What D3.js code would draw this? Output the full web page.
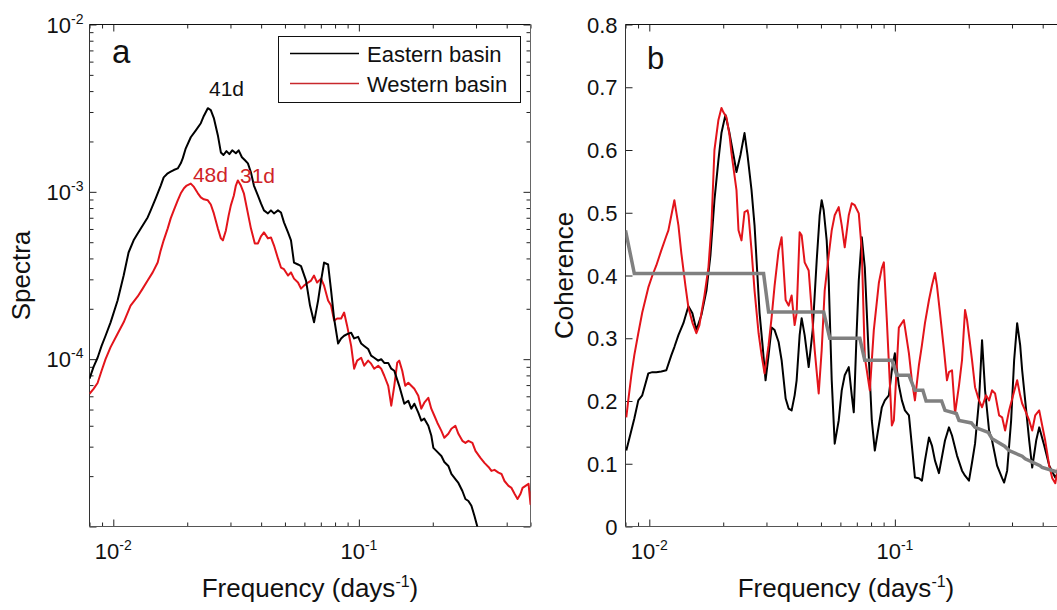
<!DOCTYPE html>
<html><head><meta charset="utf-8">
<script src="https://cdn.jsdelivr.net/npm/d3@7"></script>
<style>body{margin:0;background:#fff;overflow:hidden}</style>
</head><body><svg id="c" width="1057" height="610" style="display:block;background:#fff"></svg>
<script>
// ---------- DATA ----------
// Panel a: spectra (frequency in days^-1)
const eastFreq = [0.0080,0.00831,0.00863,0.00896,0.0093,0.00975,0.01041,0.01102,0.01154,0.0121,0.01257,0.01317,0.0138,0.0142,0.01488,0.0156,0.01604,0.01666,0.01713,0.01763,0.0183,0.01883,0.01919,0.01973,0.02068,0.02168,0.02272,0.02337,0.02426,0.02495,0.02567,0.02665,0.02742,0.0281,0.0289,0.0297,0.0305,0.03156,0.0324,0.0334,0.0343,0.03533,0.03634,0.03738,0.03882,0.03993,0.04107,0.04264,0.04385,0.04511,0.04684,0.04818,0.04955,0.05146,0.05292,0.05443,0.05652,0.05814,0.06093,0.06326,0.06569,0.06823,0.07017,0.07218,0.07493,0.07708,0.07929,0.08232,0.08467,0.0871,0.09044,0.09303,0.09568,0.09934,0.1022,0.1051,0.1091,0.1122,0.1155,0.1199,0.1233,0.1269,0.1317,0.1355,0.1394,0.146,0.1531,0.159,0.1635,0.1682,0.1746,0.1796,0.1847,0.1918,0.1972,0.2011,0.2068,0.2168,0.2229,0.2314,0.2381,0.2472,0.2543,0.264,0.2716,0.2793,0.2873,0.2955,0.304,0.3127];
const eastSpec = [7.64e-5,9.0e-5,1.02e-4,1.2e-4,1.38e-4,1.66e-4,2.24e-4,3.16e-4,4.34e-4,5.13e-4,5.64e-4,6.30e-4,7.03e-4,7.75e-4,9.15e-4,1.09e-3,1.22e-3,1.29e-3,1.32e-3,1.35e-3,1.38e-3,1.48e-3,1.59e-3,1.82e-3,2.12e-3,2.33e-3,2.57e-3,2.84e-3,3.16e-3,3.08e-3,2.76e-3,2.18e-3,1.72e-3,1.66e-3,1.75e-3,1.68e-3,1.77e-3,1.70e-3,1.77e-3,1.61e-3,1.55e-3,1.48e-3,1.31e-3,1.09e-3,9.5e-4,8.53e-4,7.75e-4,7.43e-4,7.75e-4,7.43e-4,7.75e-4,7.53e-4,6.57e-4,5.72e-4,5.13e-4,3.78e-4,3.68e-4,3.6e-4,2.95e-4,2.09e-4,1.66e-4,2.24e-4,2.95e-4,3.78e-4,3.68e-4,2.57e-4,1.75e-4,1.24e-4,1.33e-4,1.38e-4,1.42e-4,1.44e-4,1.33e-4,1.36e-4,1.24e-4,1.2e-4,1.15e-4,1.05e-4,1.02e-4,9.8e-5,1.0e-4,9.5e-5,9.5e-5,8.77e-5,8.53e-5,6.93e-5,5.42e-5,5.64e-5,5.06e-5,5.42e-5,4.79e-5,4.29e-5,4.41e-5,4.0e-5,3.5e-5,2.95e-5,2.83e-5,2.64e-5,2.43e-5,2.30e-5,2.06e-5,1.92e-5,1.82e-5,1.63e-5,1.46e-5,1.42e-5,1.33e-5,1.16e-5,9.93e-6,8.77e-6];
const westFreq = [0.0080,0.00831,0.00863,0.00896,0.0093,0.00975,0.01041,0.01102,0.01176,0.01257,0.01317,0.0138,0.01447,0.01516,0.0156,0.01604,0.01666,0.01713,0.01763,0.0183,0.01883,0.0194,0.0199,0.02068,0.0213,0.0221,0.02272,0.02337,0.02426,0.02495,0.02567,0.02665,0.02742,0.02794,0.02874,0.0295,0.03011,0.03097,0.03156,0.03216,0.03308,0.03402,0.03533,0.03634,0.0377,0.03882,0.03993,0.04107,0.04264,0.04385,0.04511,0.04684,0.04818,0.04955,0.05146,0.05292,0.05443,0.05652,0.05814,0.0598,0.0621,0.0639,0.06569,0.0676,0.07017,0.07218,0.07493,0.07708,0.07929,0.0816,0.08467,0.0871,0.0896,0.09303,0.09568,0.0984,0.1022,0.1051,0.1091,0.1122,0.1155,0.1199,0.1233,0.1269,0.1317,0.1355,0.1394,0.1433,0.146,0.1502,0.1545,0.159,0.1635,0.1682,0.1746,0.1796,0.1847,0.1918,0.1972,0.203,0.2087,0.2168,0.2229,0.2314,0.2381,0.2472,0.2543,0.264,0.2716,0.2793,0.29,0.2984,0.3127,0.3247,0.3372,0.3467,0.3567,0.3703,0.3809,0.3918,0.4068,0.4184,0.4305,0.4428,0.4555,0.4641,0.4774,0.4909,0.50,0.505];
const westSpec = [6.21e-5,6.65e-5,7.2e-5,8.53e-5,1.0e-4,1.18e-4,1.42e-4,1.66e-4,2.09e-4,2.37e-4,2.64e-4,2.95e-4,3.3e-4,3.78e-4,4.47e-4,5.13e-4,6.05e-4,6.94e-4,7.75e-4,8.9e-4,9.8e-4,1.05e-3,1.09e-3,1.12e-3,1.07e-3,9.8e-4,9.27e-4,9.02e-4,8.9e-4,8.4e-4,7.43e-4,6.05e-4,5.27e-4,5.13e-4,5.88e-4,7.23e-4,8.3e-4,9.5e-4,1.09e-3,1.17e-3,1.09e-3,9.8e-4,7.43e-4,6.05e-4,4.92e-4,4.92e-4,5.42e-4,5.72e-4,5.27e-4,5.34e-4,4.79e-4,4.0e-4,3.53e-4,3.45e-4,3.16e-4,3.3e-4,3.03e-4,2.87e-4,2.64e-4,2.75e-4,2.87e-4,2.95e-4,3.16e-4,2.87e-4,3.03e-4,2.75e-4,2.24e-4,2.09e-4,1.70e-4,1.75e-4,1.75e-4,1.90e-4,1.58e-4,1.2e-4,8.77e-5,9.8e-5,1.02e-4,9.14e-5,9.8e-5,9.4e-5,8.77e-5,9.14e-5,8.77e-5,7.96e-5,6.93e-5,5.27e-5,6.93e-5,9.53e-5,9.8e-5,8.53e-5,6.93e-5,7.23e-5,6.93e-5,6.65e-5,6.05e-5,5.06e-5,5.49e-5,5.88e-5,5.06e-5,4.59e-5,4.17e-5,3.73e-5,3.39e-5,3.58e-5,3.84e-5,4.0e-5,3.58e-5,3.25e-5,3.16e-5,3.25e-5,3.16e-5,2.83e-5,2.57e-5,2.40e-5,2.27e-5,2.15e-5,2.18e-5,2.1e-5,2.06e-5,1.87e-5,1.75e-5,1.70e-5,1.57e-5,1.46e-5,1.57e-5,1.70e-5,1.75e-5,1.80e-5,1.36e-5,1.63e-5];

// Panel b: coherence
const cohEastFreq = [0.00806,0.00845,0.00869,0.00902,0.00936,0.00991,0.01029,0.01068,0.01119,0.01173,0.0123,0.01265,0.01314,0.01377,0.01443,0.01498,0.01555,0.0163,0.01709,0.01774,0.01842,0.01912,0.01967,0.02042,0.02121,0.02202,0.02265,0.02351,0.02442,0.02512,0.02608,0.02683,0.02734,0.02812,0.02892,0.02975,0.0306,0.03148,0.03238,0.03362,0.03458,0.03591,0.03693,0.03799,0.03907,0.03981,0.04095,0.04173,0.04292,0.04457,0.04627,0.04805,0.04942,0.05035,0.05131,0.05277,0.05378,0.05532,0.05689,0.05907,0.06077,0.0625,0.0649,0.06676,0.06803,0.06995,0.07129,0.07333,0.07543,0.07832,0.08056,0.08287,0.08605,0.08851,0.09104,0.09452,0.09723,0.1,0.1038,0.1068,0.1099,0.1141,0.1173,0.1207,0.1253,0.1289,0.1326,0.1377,0.1416,0.1457,0.1512,0.16,0.1661,0.1709,0.1791,0.1877,0.1931,0.2004,0.2062,0.2121,0.2202,0.2265,0.233,0.2419,0.2488,0.2608,0.2734,0.2786,0.2866,0.2975,0.306,0.3148,0.3238,0.3299,0.3394,0.3524,0.3625,0.3763,0.3871,0.4057,0.4252,0.45,0.4672,0.4942,0.5083];
const cohEast = [0.121,0.153,0.172,0.201,0.209,0.244,0.246,0.246,0.247,0.249,0.273,0.286,0.305,0.324,0.351,0.340,0.313,0.337,0.376,0.432,0.520,0.584,0.627,0.656,0.627,0.592,0.565,0.592,0.627,0.592,0.536,0.480,0.424,0.340,0.289,0.233,0.273,0.317,0.313,0.294,0.265,0.204,0.188,0.185,0.209,0.233,0.305,0.332,0.305,0.254,0.313,0.424,0.496,0.520,0.504,0.456,0.392,0.233,0.132,0.169,0.217,0.241,0.254,0.209,0.182,0.313,0.392,0.461,0.413,0.270,0.169,0.121,0.161,0.190,0.201,0.209,0.249,0.276,0.225,0.201,0.185,0.177,0.129,0.078,0.077,0.073,0.105,0.142,0.129,0.105,0.085,0.137,0.158,0.145,0.113,0.089,0.081,0.073,0.102,0.132,0.201,0.297,0.217,0.153,0.137,0.097,0.077,0.070,0.089,0.169,0.265,0.324,0.289,0.249,0.201,0.137,0.094,0.137,0.158,0.129,0.097,0.078,0.089,0.097,0.089];
const cohWestFreq = [0.00806,0.00821,0.00845,0.00869,0.00902,0.00936,0.00991,0.01029,0.01068,0.01119,0.01173,0.01196,0.0123,0.01265,0.01314,0.01351,0.01403,0.01443,0.01498,0.01555,0.016,0.0163,0.01677,0.01741,0.01791,0.01842,0.01912,0.01967,0.02004,0.02062,0.02121,0.02161,0.02265,0.02308,0.02374,0.02442,0.02512,0.02536,0.02608,0.02683,0.02786,0.02866,0.02947,0.0306,0.03148,0.03238,0.03362,0.03458,0.03591,0.03693,0.03799,0.03907,0.03981,0.04095,0.04173,0.04292,0.04457,0.04584,0.04716,0.04896,0.05035,0.05179,0.05378,0.05532,0.05689,0.05907,0.06077,0.0625,0.0649,0.06676,0.06867,0.07129,0.07333,0.07543,0.07907,0.08209,0.08605,0.08851,0.09019,0.09274,0.09723,0.09906,0.1038,0.1088,0.1141,0.1173,0.1207,0.1253,0.1289,0.1326,0.1377,0.1416,0.1457,0.1484,0.1527,0.1585,0.163,0.1661,0.1709,0.1758,0.1825,0.1877,0.1931,0.1968,0.2023,0.2062,0.2121,0.2202,0.2265,0.2351,0.2419,0.2488,0.2559,0.2658,0.2734,0.2812,0.2919,0.3031,0.3148,0.3238,0.3299,0.3394,0.3524,0.3625,0.3728,0.3871,0.3981,0.4095,0.4252,0.4375,0.45,0.4672,0.4805,0.5083];
const cohWest = [0.174,0.201,0.241,0.273,0.308,0.341,0.381,0.400,0.416,0.440,0.463,0.472,0.496,0.520,0.480,0.435,0.384,0.349,0.325,0.308,0.321,0.340,0.368,0.413,0.480,0.600,0.648,0.667,0.660,0.652,0.624,0.595,0.536,0.472,0.456,0.501,0.504,0.496,0.440,0.376,0.308,0.273,0.244,0.289,0.333,0.384,0.440,0.461,0.361,0.352,0.368,0.321,0.340,0.469,0.464,0.421,0.408,0.345,0.281,0.212,0.281,0.376,0.432,0.472,0.496,0.509,0.480,0.445,0.496,0.515,0.512,0.499,0.440,0.270,0.217,0.313,0.388,0.412,0.421,0.329,0.161,0.169,0.317,0.329,0.276,0.233,0.201,0.257,0.289,0.324,0.361,0.384,0.404,0.384,0.340,0.281,0.233,0.246,0.249,0.180,0.225,0.265,0.345,0.329,0.292,0.265,0.222,0.201,0.190,0.209,0.201,0.217,0.212,0.177,0.174,0.153,0.185,0.209,0.233,0.209,0.196,0.185,0.169,0.153,0.177,0.185,0.161,0.137,0.097,0.077,0.069,0.105,0.089,0.077];
// 95% significance level (grey)
const sigFreq = [0.0080,0.00869,0.0292,0.0306,0.0513,0.0543,0.0720,0.0754,0.0972,0.1019,0.1141,0.1207,0.1300,0.1340,0.1550,0.1600,0.1780,0.1825,0.2050,0.2121,0.2400,0.2488,0.2800,0.2919,0.3300,0.3394,0.3900,0.398,0.467,0.5];
const sigLevel = [0.472,0.403,0.403,0.342,0.342,0.300,0.300,0.265,0.265,0.241,0.241,0.217,0.217,0.200,0.200,0.185,0.180,0.169,0.165,0.158,0.150,0.140,0.128,0.121,0.112,0.108,0.097,0.094,0.086,0.082];

const yTicksA = [1e-4, 1e-3, 1e-2];
const yTickLabelsA = ["-4", "-3", "-2"];
const xTicks = [0.01, 0.1];
const xTickLabels = ["-2", "-1"];
const yTicksB = [0, 0.1, 0.2, 0.3, 0.4, 0.5, 0.6, 0.7, 0.8];
const yTickLabelsB = ["0", "0.1", "0.2", "0.3", "0.4", "0.5", "0.6", "0.7", "0.8"];
const legendLabels = ["Eastern basin", "Western basin"];
const peakLabels = [{t:"41d", f:0.0243, v:3.2e-3, c:"east"}, {t:"48d", f:0.0207, v:1.13e-3, c:"west"}, {t:"31d", f:0.0322, v:1.18e-3, c:"west"}];

// ---------- STYLE ----------
const FONT = '"Liberation Sans", Arial, Helvetica, sans-serif';
const RED = "#e3141b";
const RED_TXT = "#cf2428";
const GREY = "#808080";
const pTop = 24.5, pBottom = 526.5;

const svg = d3.select("#c").attr("font-family", FONT);

const ax = d3.scaleLog().domain([0.008, 0.5]).range([89.5, 530.5]);
const ay = d3.scaleLog().domain([1e-5, 1e-2]).range([pBottom, pTop]);
const bx = d3.scaleLog().domain([0.008, 0.5]).range([625.5, 1066.5]);
const by = d3.scaleLinear().domain([0, 0.8]).range([pBottom, pTop]);

function logTicks(dom) {
  const major = [], minor = [];
  const lo = Math.floor(Math.log10(dom[0])), hi = Math.ceil(Math.log10(dom[1]));
  for (let k = lo; k <= hi; k++) {
    for (let i = 1; i <= 9; i++) {
      const v = i * Math.pow(10, k);
      if (v < dom[0] * 0.999 || v > dom[1] * 1.001) continue;
      (i === 1 ? major : minor).push(v);
    }
  }
  return {major, minor};
}

function tickSet(g, axisFn, scale, transform, values, size) {
  const a = axisFn(scale).tickValues(values).tickSize(size).tickSizeOuter(0).tickFormat("");
  const gg = g.append("g").attr("transform", transform).call(a);
  gg.select(".domain").remove();
  gg.selectAll(".tick line").attr("stroke", "#222").attr("stroke-width", 1);
}

function frame(g, xs, ys, xMajor, xMinor, yMajor, yMinor) {
  const x0 = xs.range()[0], x1 = xs.range()[1];
  tickSet(g, d3.axisBottom, xs, `translate(0,${pBottom})`, xMajor, -7);
  tickSet(g, d3.axisBottom, xs, `translate(0,${pBottom})`, xMinor, -4);
  tickSet(g, d3.axisTop, xs, `translate(0,${pTop})`, xMajor, -7);
  tickSet(g, d3.axisTop, xs, `translate(0,${pTop})`, xMinor, -4);
  tickSet(g, d3.axisLeft, ys, `translate(${x0},0)`, yMajor, -7);
  tickSet(g, d3.axisRight, ys, `translate(${x1},0)`, yMajor, -7);
  if (yMinor.length) {
    tickSet(g, d3.axisLeft, ys, `translate(${x0},0)`, yMinor, -4);
    tickSet(g, d3.axisRight, ys, `translate(${x1},0)`, yMinor, -4);
  }
  g.append("line").attr("x1", x0).attr("x2", x1).attr("y1", pTop).attr("y2", pTop).attr("stroke", "#111");
  g.append("line").attr("x1", x0).attr("x2", x0).attr("y1", pTop).attr("y2", pBottom).attr("stroke", "#333");
  g.append("line").attr("x1", x1).attr("x2", x1).attr("y1", pTop).attr("y2", pBottom).attr("stroke", "#666");
  g.append("line").attr("x1", x0).attr("x2", x1).attr("y1", pBottom).attr("y2", pBottom).attr("stroke", "#555");
}

function powLabel(g, x, y, exp, anchor) {
  const t = g.append("text").attr("x", x).attr("y", y).attr("font-size", 22).attr("text-anchor", anchor).attr("fill", "#111");
  t.append("tspan").text("10");
  t.append("tspan").attr("dy", -9).attr("font-size", 14).text(exp);
}

function freqLabel(g, cx) {
  const t = g.append("text").attr("x", cx).attr("y", 597).attr("font-size", 26).attr("text-anchor", "middle").attr("fill", "#111");
  t.append("tspan").text("Frequency (days");
  t.append("tspan").attr("dy", -10).attr("font-size", 16).text("-1");
  t.append("tspan").attr("dy", 10).text(")");
}

function clip(id, xs) {
  svg.append("clipPath").attr("id", id).append("rect")
    .attr("x", xs.range()[0]).attr("y", pTop).attr("width", xs.range()[1] - xs.range()[0]).attr("height", pBottom - pTop);
}

// ---------- PANEL A ----------
const ga = svg.append("g");
clip("clipA", ax);
const lxA = logTicks(ax.domain()), lyA = logTicks(ay.domain());
frame(ga, ax, ay, lxA.major, lxA.minor, lyA.major, lyA.minor);

const lineA = d3.line().x(d => ax(d[0])).y(d => ay(d[1]));
ga.append("path").datum(d3.zip(westFreq, westSpec)).attr("d", lineA)
  .attr("fill", "none").attr("stroke", RED).attr("stroke-width", 2).attr("clip-path", "url(#clipA)").attr("stroke-linejoin", "round");
ga.append("path").datum(d3.zip(eastFreq, eastSpec)).attr("d", lineA)
  .attr("fill", "none").attr("stroke", "#000").attr("stroke-width", 2).attr("clip-path", "url(#clipA)").attr("stroke-linejoin", "round");

yTicksA.forEach((v, i) => powLabel(ga, ax.range()[0] - 6, ay(v) + 8, yTickLabelsA[i], "end"));
xTicks.forEach((v, i) => powLabel(ga, ax(v), 559, xTickLabels[i], "middle"));
freqLabel(ga, (ax.range()[0] + ax.range()[1]) / 2);
ga.append("text").attr("transform", `translate(30,${(pTop + pBottom) / 2}) rotate(-90)`)
  .attr("text-anchor", "middle").attr("font-size", 26).attr("fill", "#111").text("Spectra");
ga.append("text").attr("x", 112).attr("y", 63).attr("font-size", 33).attr("fill", "#111").text("a");

peakLabels.forEach(p => {
  const t = ga.append("text").attr("font-size", 21).attr("fill", p.c === "east" ? "#111" : RED_TXT).text(p.t);
  if (p.t === "41d") t.attr("x", ax(p.f) + 1).attr("y", ay(p.v) - 11).attr("text-anchor", "start");
  else if (p.t === "48d") t.attr("x", ax(p.f) + 2).attr("y", ay(p.v) - 1).attr("text-anchor", "start");
  else t.attr("x", ax(p.f) + 2).attr("y", ay(p.v) + 3).attr("text-anchor", "start");
});

// legend
const lg = ga.append("g");
lg.append("rect").attr("x", 278.5).attr("y", 36.5).attr("width", 242).attr("height", 66)
  .attr("fill", "#fff").attr("stroke", "#111").attr("stroke-width", 1);
[["#000", 53.5], ["#c8282c", 83.5]].forEach((s, i) => {
  lg.append("line").attr("x1", 290).attr("x2", 359).attr("y1", s[1]).attr("y2", s[1]).attr("stroke", s[0]).attr("stroke-width", 1.6);
  lg.append("text").attr("x", 367).attr("y", s[1] + 8.5).attr("font-size", 22).attr("fill", "#111").text(legendLabels[i]);
});

// ---------- PANEL B ----------
const gb = svg.append("g");
clip("clipB", bx);
const lxB = logTicks(bx.domain());
frame(gb, bx, by, lxB.major, lxB.minor, yTicksB, []);

const lineB = d3.line().x(d => bx(d[0])).y(d => by(d[1]));
gb.append("path").datum(d3.zip(cohEastFreq, cohEast)).attr("d", lineB)
  .attr("fill", "none").attr("stroke", "#000").attr("stroke-width", 2).attr("clip-path", "url(#clipB)").attr("stroke-linejoin", "round");
gb.append("path").datum(d3.zip(cohWestFreq, cohWest)).attr("d", lineB)
  .attr("fill", "none").attr("stroke", RED).attr("stroke-width", 2).attr("clip-path", "url(#clipB)").attr("stroke-linejoin", "round");
gb.append("path").datum(d3.zip(sigFreq, sigLevel)).attr("d", lineB)
  .attr("fill", "none").attr("stroke", GREY).attr("stroke-width", 3.5).attr("clip-path", "url(#clipB)");

yTicksB.forEach((v, i) => gb.append("text").attr("x", bx.range()[0] - 8).attr("y", by(v) + 8)
  .attr("font-size", 22).attr("text-anchor", "end").attr("fill", "#111").text(yTickLabelsB[i]));
xTicks.forEach((v, i) => powLabel(gb, bx(v), 559, xTickLabels[i], "middle"));
freqLabel(gb, (bx.range()[0] + bx.range()[1]) / 2);
gb.append("text").attr("transform", `translate(573,${(pTop + pBottom) / 2}) rotate(-90)`)
  .attr("text-anchor", "middle").attr("font-size", 26).attr("fill", "#111").text("Coherence");
gb.append("text").attr("x", 647).attr("y", 69).attr("font-size", 31).attr("fill", "#111").text("b");
</script></body></html>
